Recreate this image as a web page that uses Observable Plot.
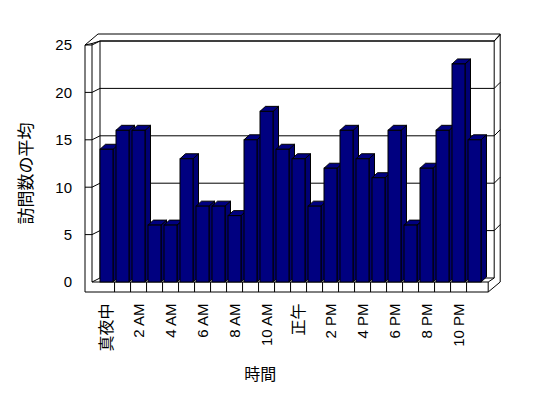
<!DOCTYPE html>
<html><head><meta charset="utf-8">
<script src="https://cdn.jsdelivr.net/npm/d3@7"></script>
<script src="https://cdn.jsdelivr.net/npm/@observablehq/plot@0.6"></script>
<style>body{margin:0;background:#fff}</style>
</head><body><div id="chart"></div>
<script>
// ---- data ----
const hours = ["真夜中","1 AM","2 AM","3 AM","4 AM","5 AM","6 AM","7 AM","8 AM","9 AM","10 AM","11 AM",
               "正午","1 PM","2 PM","3 PM","4 PM","5 PM","6 PM","7 PM","8 PM","9 PM","10 PM","11 PM"];
const visits = [14,16,16,6,6,13,8,8,7,15,18,14,13,8,12,16,13,11,16,6,12,16,23,15];
const yTicks = [0,5,10,15,20,25];
const xTickLabels = hours.filter((d,i) => i % 2 === 0);
const yTitle = "訪問数の平均";
const xTitle = "時間";

const data = hours.map((h,i) => ({hour: h, value: visits[i]}));
const yMax = 25;

// depth offsets (pixels) for the 3D look
const BAR_DX = 5.5, BAR_DY = -5;
const WALL_DX = 8, WALL_DY = -4;

function pathOf(pts){ return "M" + pts.map(p => p[0] + "," + p[1]).join("L") + "Z"; }
function lineOf(pts){ return "M" + pts.map(p => p[0] + "," + p[1]).join("L"); }

// frame: walls, floor, gridlines
function frameMark(index, scales) {
  const x = scales.x, y = scales.y;
  const [xa, xb] = x.range();
  const step = x.step(), pin = x.paddingInner();
  const y0 = y(0), yT = y(yMax);
  const Fl = xa - 1.5, Fr = xb;
  const g = d3.create("svg:g").attr("fill", "none").attr("stroke", "black").attr("stroke-width", 1);
  // outer silhouette
  g.append("path").attr("fill", "white").attr("d", pathOf([
    [Fl-7, yT], [Fl+6, yT-11], [Fr+12, yT-11], [Fr+12, y0], [Fr, y0+10], [Fl-7, y0+10]
  ]));
  // back wall
  g.append("path").attr("d", pathOf([
    [Fl+WALL_DX, yT+WALL_DY], [Fr+6, yT+WALL_DY], [Fr+6, y0+WALL_DY], [Fl+WALL_DX, y0+WALL_DY]
  ]));
  // left wall inner edges
  g.append("path").attr("d", lineOf([[Fl-7, yT], [Fl, yT-1.5], [Fl, y0]]));
  g.append("path").attr("d", lineOf([[Fl, yT-1.5], [Fl+WALL_DX, yT+WALL_DY]]));
  g.append("path").attr("d", lineOf([[Fl, y0], [Fl+WALL_DX, y0+WALL_DY]]));
  // back wall top-right thickness
  g.append("path").attr("d", lineOf([[Fr+6, yT+WALL_DY], [Fr+12, yT-11]]));
  // floor front face
  g.append("path").attr("d", lineOf([[Fl, y0], [Fr, y0], [Fr, y0+10]]));
  g.append("path").attr("d", lineOf([[Fr, y0], [Fr+6, y0+WALL_DY]]));
  // category dividers on floor front
  hours.forEach((h, i) => {
    if (i === 0) return;
    const bx = x(h) - step * pin / 2;
    g.append("path").attr("d", lineOf([[bx, y0], [bx, y0+10]]));
  });
  // gridlines
  yTicks.forEach(v => {
    const yy = y(v);
    if (v > 0) {
      g.append("path").attr("d", lineOf([[Fl-7, yy], [Fl, yy], [Fl+WALL_DX, yy+WALL_DY], [Fr+6, yy+WALL_DY], [Fr+12, yy+WALL_DY-6]]));
    }
  });
  return g.node();
}

// bar side and top faces
function barDepthMark(index, scales) {
  const x = scales.x, y = scales.y;
  const bw = x.bandwidth();
  const y0 = y(0);
  const g = d3.create("svg:g").attr("stroke", "black").attr("stroke-width", 1).attr("stroke-linejoin", "miter");
  data.forEach(d => {
    const x0 = x(d.hour), x1 = x0 + bw, yv = y(d.value);
    g.append("path").attr("fill", "#000074").attr("d", pathOf([
      [x1, yv], [x1+BAR_DX, yv+BAR_DY], [x1+BAR_DX, y0+BAR_DY], [x1, y0]
    ]));
    g.append("path").attr("fill", "#000080").attr("d", pathOf([
      [x0, yv], [x0+BAR_DX, yv+BAR_DY], [x1+BAR_DX, yv+BAR_DY], [x1, yv]
    ]));
  });
  return g.node();
}

const isCJK = s => /[\u3000-\u9fff]/.test(s);

const chart = Plot.plot({
  width: 548,
  height: 398,
  marginLeft: 93.5,
  marginRight: 59.8,
  marginTop: 45,
  marginBottom: 116,
  style: {fontFamily: "'Liberation Sans', 'Noto Sans CJK JP', sans-serif", fontSize: "14px", background: "white", color: "black"},
  x: {domain: hours, paddingInner: 0.18, paddingOuter: 0.09, axis: null},
  y: {domain: [0, yMax], axis: null},
  marks: [
    frameMark,
    barDepthMark,
    Plot.barY(data, {x: "hour", y: "value", fill: "#000080", stroke: "black", strokeWidth: 1}),
    Plot.axisY(yTicks, {tickSize: 0, tickPadding: 22, fontSize: 15, label: null}),
    Plot.text(xTickLabels, {x: d => d, frameAnchor: "bottom", dy: 21, rotate: -90,
      textAnchor: "end", lineAnchor: "middle", fontSize: d => isCJK(d) ? 16 : 15, fill: "black"}),
    Plot.text([yTitle], {frameAnchor: "left", dx: -67.5, dy: 9.5, rotate: -90,
      textAnchor: "middle", lineAnchor: "middle", fontSize: 17, fill: "black"}),
    Plot.text([xTitle], {frameAnchor: "bottom", dx: -31, dy: 92,
      textAnchor: "middle", lineAnchor: "middle", fontSize: 16, fill: "black"})
  ]
});
document.getElementById("chart").appendChild(chart);
</script>
</body></html>
